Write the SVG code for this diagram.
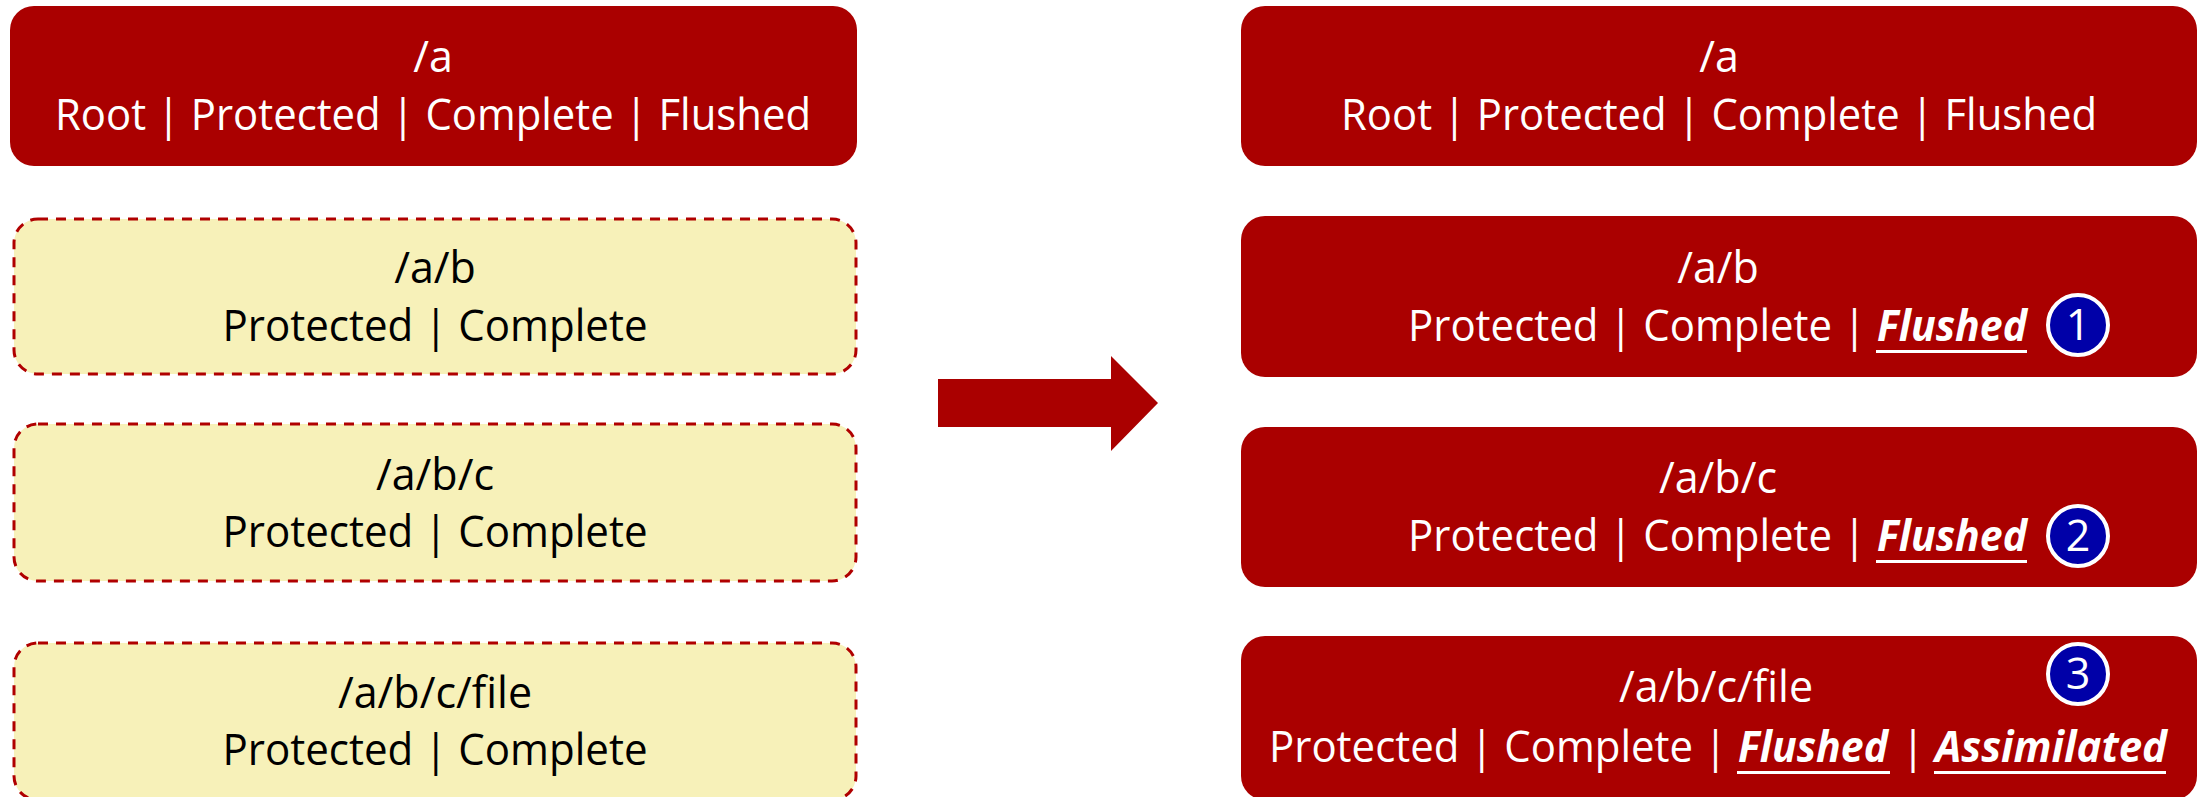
<svg xmlns="http://www.w3.org/2000/svg" width="2201" height="797" viewBox="0 0 2201 797">
  <style>
    .red { fill: #AA0000; }
    .pending { fill: #F7F1B9; stroke: #B00000; stroke-width: 3; stroke-dasharray: 10 8; }
    text { font-family: "Open Sans", "Liberation Sans", sans-serif; font-size: 43px; }
    .dark { fill: #000000; }
    .light { fill: #FFFFFF; }
    .mid { text-anchor: middle; }
    .em { font-weight: bold; font-style: italic; }
    .uline { fill: #FFFFFF; }
    .badge { fill: #0000A8; stroke: #FFFFFF; stroke-width: 4; }
  </style>

  <!-- Before: path state -->
  <g id="left-a">
    <rect class="red" x="10" y="6" width="847" height="160" rx="24"/>
    <text class="light mid" x="433" y="72">/a</text>
    <text class="light mid" x="433" y="130" textLength="756" lengthAdjust="spacingAndGlyphs">Root | Protected | Complete | Flushed</text>
  </g>
  <g id="left-ab">
    <rect class="pending" x="14" y="219" width="842" height="155" rx="24"/>
    <text class="dark mid" x="435" y="283">/a/b</text>
    <text class="dark mid" x="435" y="341" textLength="425" lengthAdjust="spacingAndGlyphs">Protected | Complete</text>
  </g>
  <g id="left-abc">
    <rect class="pending" x="14" y="424" width="842" height="157" rx="24"/>
    <text class="dark mid" x="435" y="490">/a/b/c</text>
    <text class="dark mid" x="435" y="547" textLength="425" lengthAdjust="spacingAndGlyphs">Protected | Complete</text>
  </g>
  <g id="left-file">
    <rect class="pending" x="14" y="643" width="842" height="157" rx="24"/>
    <text class="dark mid" x="435" y="708">/a/b/c/file</text>
    <text class="dark mid" x="435" y="765" textLength="425" lengthAdjust="spacingAndGlyphs">Protected | Complete</text>
  </g>

  <!-- Transition arrow -->
  <g id="connectors">
    <polygon class="red" points="938,379 1111,379 1111,356 1158,403 1111,451 1111,427 938,427"/>
  </g>

  <!-- After: path state -->
  <g id="right-a">
    <rect class="red" x="1241" y="6" width="956" height="160" rx="24"/>
    <text class="light mid" x="1719" y="72">/a</text>
    <text class="light mid" x="1719" y="130" textLength="756" lengthAdjust="spacingAndGlyphs">Root | Protected | Complete | Flushed</text>
  </g>
  <g id="right-ab">
    <rect class="red" x="1241" y="216" width="956" height="161" rx="24"/>
    <text class="light mid" x="1718" y="283">/a/b</text>
    <text class="light" x="1408" y="341" textLength="458" lengthAdjust="spacingAndGlyphs">Protected | Complete |</text>
    <text class="light em" x="1877" y="341" textLength="150" lengthAdjust="spacingAndGlyphs">Flushed</text>
    <rect class="uline" x="1876" y="350" width="151" height="3"/>
    <circle class="badge" cx="2078" cy="325" r="30"/>
    <text class="light mid" x="2078" y="340">1</text>
  </g>
  <g id="right-abc">
    <rect class="red" x="1241" y="427" width="956" height="160" rx="24"/>
    <text class="light mid" x="1718" y="493">/a/b/c</text>
    <text class="light" x="1408" y="551" textLength="458" lengthAdjust="spacingAndGlyphs">Protected | Complete |</text>
    <text class="light em" x="1877" y="551" textLength="150" lengthAdjust="spacingAndGlyphs">Flushed</text>
    <rect class="uline" x="1876" y="560" width="151" height="3"/>
    <circle class="badge" cx="2078" cy="536" r="30"/>
    <text class="light mid" x="2078" y="551">2</text>
  </g>
  <g id="right-file">
    <rect class="red" x="1241" y="636" width="956" height="164" rx="24"/>
    <text class="light mid" x="1716" y="702">/a/b/c/file</text>
    <text class="light" x="1269" y="762" textLength="458" lengthAdjust="spacingAndGlyphs">Protected | Complete |</text>
    <text class="light em" x="1738" y="762" textLength="150" lengthAdjust="spacingAndGlyphs">Flushed</text>
    <rect class="uline" x="1737" y="771" width="153" height="3"/>
    <text class="light mid" x="1913" y="762">|</text>
    <text class="light em" x="1935" y="762" textLength="232" lengthAdjust="spacingAndGlyphs">Assimilated</text>
    <rect class="uline" x="1934" y="771" width="232" height="3"/>
    <circle class="badge" cx="2078" cy="674" r="30"/>
    <text class="light mid" x="2078" y="689">3</text>
  </g>
</svg>
